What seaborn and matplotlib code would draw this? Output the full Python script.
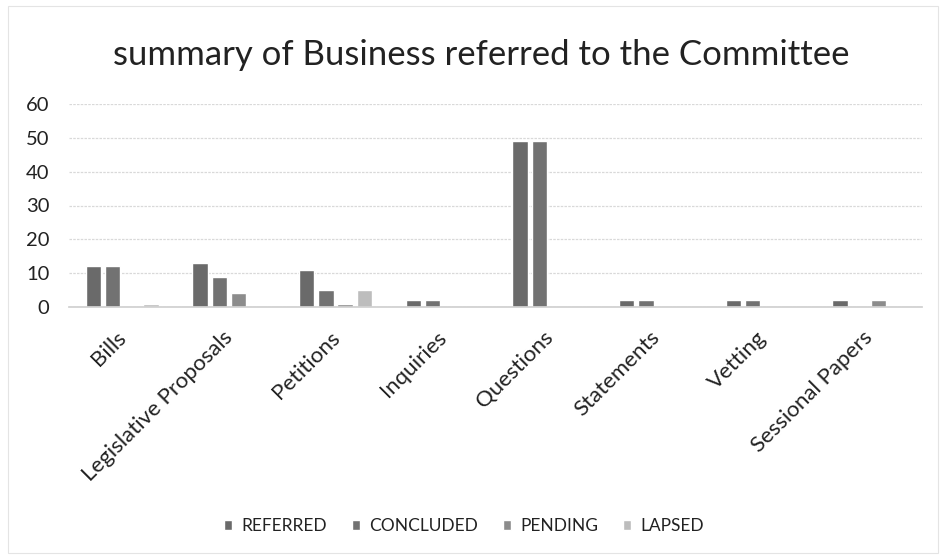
import matplotlib
matplotlib.use("Agg")
import matplotlib.pyplot as plt
import matplotlib.transforms as mtransforms
import seaborn as sns
import pandas as pd
from matplotlib.patches import Rectangle

categories = ["Bills", "Legislative Proposals", "Petitions", "Inquiries",
              "Questions", "Statements", "Vetting", "Sessional Papers"]
series_names = ["REFERRED", "CONCLUDED", "PENDING", "LAPSED"]
referred = [12, 13, 11, 2, 49, 2, 2, 2]
concluded = [12, 9, 5, 2, 49, 2, 2, 0]
pending = [0, 4, 1, 0, 0, 0, 0, 2]
lapsed = [1, 0, 5, 0, 0, 0, 0, 0]
y_ticks = [0, 10, 20, 30, 40, 50, 60]
title = "summary of Business referred to the Committee"

rows = []
for name, vals in zip(series_names, [referred, concluded, pending, lapsed]):
    for c, v in zip(categories, vals):
        rows.append({"cat": c, "series": name, "value": v})
df = pd.DataFrame(rows)

sns.set_theme(style="white")
plt.rcParams["font.family"] = ["Lato", "DejaVu Sans"]

fig = plt.figure(figsize=(9.4, 5.6), dpi=100)
ax = fig.add_axes([69/940, 1-307/560, 853/940, 203/560])

palette = {"REFERRED": "#6a6a6a", "CONCLUDED": "#727272",
           "PENDING": "#8c8c8c", "LAPSED": "#bdbdbd"}
sns.barplot(data=df, x="cat", y="value", hue="series", order=categories,
            hue_order=series_names, palette=palette, width=0.72, gap=0.2,
            saturation=1, ax=ax, legend=True)

ax.set_ylim(0, 60)
ax.set_yticks(y_ticks)
ax.set_xlim(-0.5, len(categories) - 0.5)
ax.yaxis.grid(True, color="#d9d9d9", linewidth=0.9, linestyle=(0, (2, 1)))
ax.set_axisbelow(True)
for s in ["top", "right", "left"]:
    ax.spines[s].set_visible(False)
ax.spines["bottom"].set_color("#d0d0d0")
ax.set_xlabel("")
ax.set_ylabel("")
ax.tick_params(axis="y", labelsize=14.5, colors="#222222", length=0, pad=14)
ax.tick_params(axis="x", labelsize=16, colors="#222222", length=0, pad=4)
offset = mtransforms.ScaledTranslation(-6/100, -15/100, fig.dpi_scale_trans)
for lbl in ax.get_xticklabels():
    lbl.set_rotation(45)
    lbl.set_horizontalalignment("right")
    lbl.set_rotation_mode("anchor")
    lbl.set_transform(lbl.get_transform() + offset)

handles, labels = ax.get_legend_handles_labels()
ax.get_legend().remove()
fig.legend(handles, labels, loc="center", bbox_to_anchor=(464/940, 1-526/560),
           ncol=4, frameon=False, fontsize=12.5, handlelength=0.46,
           handleheight=0.46, handletextpad=0.57, columnspacing=1.4,
           labelcolor="#222222")

fig.text(481/940, 1-55/560, title, ha="center", va="center",
         fontsize=25, color="#222222")

fig.patches.append(Rectangle((8/940, 1-553/560), 930/940, 547/560,
                             transform=fig.transFigure, fill=False,
                             edgecolor="#e4e4e4", linewidth=0.8))

fig.savefig("out.png", dpi=100)
